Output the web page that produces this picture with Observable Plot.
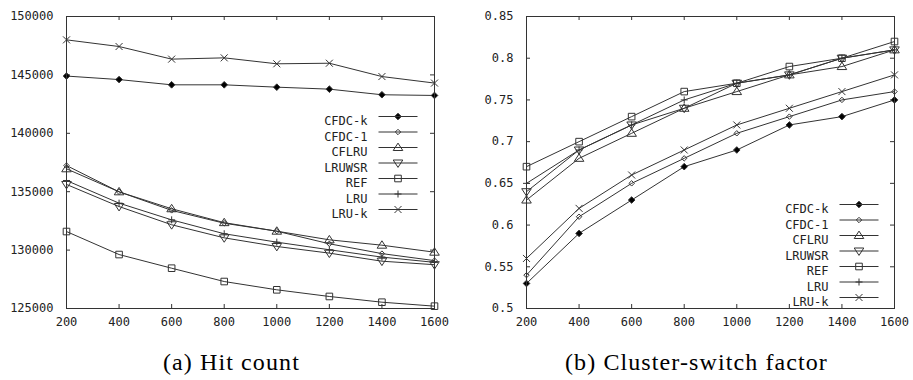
<!DOCTYPE html>
<html><head><meta charset="utf-8">
<script src="https://cdn.jsdelivr.net/npm/d3@7"></script>
<script src="https://cdn.jsdelivr.net/npm/@observablehq/plot@0.6"></script>
<style>
html,body{margin:0;padding:0;background:#fff;}
body{width:913px;height:380px;overflow:hidden;position:relative;}
#a{position:absolute;left:0;top:0;}
#b{position:absolute;left:456px;top:0;}
.cap{position:absolute;font-family:"Liberation Serif",serif;font-size:24px;line-height:24px;letter-spacing:1.1px;color:#000;white-space:nowrap;}
#capA{left:163px;top:350px;}
#capB{left:565px;top:350px;}
</style></head><body>
<div id="a"></div><div id="b"></div>
<div class="cap" id="capA">(a) Hit count</div>
<div class="cap" id="capB">(b) Cluster-switch factor</div>
<script>
// ---- data ----
const xValues = [200, 400, 600, 800, 1000, 1200, 1400, 1600];
const seriesNames = ["CFDC-k", "CFDC-1", "CFLRU", "LRUWSR", "REF", "LRU", "LRU-k"];

// (a) Hit count
const hitCFDCk  = [144900, 144600, 144150, 144150, 143950, 143780, 143300, 143240];
const hitCFDC1  = [137240, 134990, 133400, 132300, 131620, 130540, 129700, 129100];
const hitCFLRU  = [136960, 134990, 133540, 132350, 131620, 130880, 130420, 129820];
const hitLRUWSR = [135620, 133730, 132170, 131050, 130310, 129740, 129050, 128750];
const hitREF    = [131590, 129620, 128450, 127310, 126600, 126030, 125540, 125200];
const hitLRU    = [135960, 134020, 132590, 131400, 130680, 130030, 129400, 128950];
const hitLRUk   = [148000, 147430, 146350, 146460, 145950, 146000, 144860, 144300];
const hitTicks  = [125000, 130000, 135000, 140000, 145000, 150000];

// (b) Cluster-switch factor
const csfCFDCk  = [0.53, 0.59, 0.63, 0.67, 0.69, 0.72, 0.73, 0.75];
const csfCFDC1  = [0.54, 0.61, 0.65, 0.68, 0.71, 0.73, 0.75, 0.76];
const csfCFLRU  = [0.63, 0.68, 0.71, 0.74, 0.76, 0.78, 0.79, 0.81];
const csfLRUWSR = [0.64, 0.69, 0.72, 0.74, 0.77, 0.78, 0.80, 0.81];
const csfREF    = [0.67, 0.70, 0.73, 0.76, 0.77, 0.79, 0.80, 0.82];
const csfLRU    = [0.65, 0.69, 0.72, 0.75, 0.77, 0.78, 0.80, 0.81];
const csfLRUk   = [0.56, 0.62, 0.66, 0.69, 0.72, 0.74, 0.76, 0.78];
const csfTicks  = [0.5, 0.55, 0.6, 0.65, 0.7, 0.75, 0.8, 0.85];

// ---- styles ----
const shapes = {
  diamond(c, r) { c.moveTo(0, -r); c.lineTo(r, 0); c.lineTo(0, r); c.lineTo(-r, 0); c.closePath(); },
  triangleUp(c, r) { c.moveTo(0, -1.1 * r); c.lineTo(1.2 * r, 0.75 * r); c.lineTo(-1.2 * r, 0.75 * r); c.closePath(); },
  triangleDown(c, r) { c.moveTo(0, 1.1 * r); c.lineTo(1.2 * r, -0.75 * r); c.lineTo(-1.2 * r, -0.75 * r); c.closePath(); },
  square(c, r) { c.moveTo(-r, -r); c.lineTo(r, -r); c.lineTo(r, r); c.lineTo(-r, r); c.closePath(); },
  plus(c, r) { c.moveTo(-r, 0); c.lineTo(r, 0); c.moveTo(0, -r); c.lineTo(0, r); },
  times(c, r) { c.moveTo(-r, -r); c.lineTo(r, r); c.moveTo(r, -r); c.lineTo(-r, r); }
};
const markerStyle = {
  "CFDC-k": {shape: "diamond", r: 3.3, fill: "#000"},
  "CFDC-1": {shape: "diamond", r: 2.7, fill: "none"},
  "CFLRU":  {shape: "triangleUp", r: 4, fill: "none"},
  "LRUWSR": {shape: "triangleDown", r: 4, fill: "none"},
  "REF":    {shape: "square", r: 3.3, fill: "none"},
  "LRU":    {shape: "plus", r: 3.5, fill: "none"},
  "LRU-k":  {shape: "times", r: 3.5, fill: "none"}
};
const symbolOf = (name) => ({draw(c, size) { shapes[markerStyle[name].shape](c, Math.sqrt(size / Math.PI)); }});
const legendSymbolOf = (name) => ({draw(c, size) {
  c.moveTo(-19.5, 0); c.lineTo(19.5, 0);
  shapes[markerStyle[name].shape](c, Math.sqrt(size / Math.PI));
}});

const MONO = "DejaVu Sans Mono";
const LINE = "#333";

function makeChart({values, yDomain, yTicks, width, marginLeft, marginRight, legend}) {
  const height = 330, marginTop = 16, marginBottom = 22;
  const plotW = width - marginLeft - marginRight, plotH = height - marginTop - marginBottom;
  const xDomain = [xValues[0], xValues[xValues.length - 1]];
  const tl = 4; // inward tick length in px
  const ty = (yDomain[1] - yDomain[0]) * tl / plotH;
  const tx = (xDomain[1] - xDomain[0]) * tl / plotW;
  const marks = [];
  // inward ticks on all four sides
  marks.push(Plot.ruleX(xValues, {x: d => d, y1: yDomain[0], y2: yDomain[0] + ty, stroke: LINE}));
  marks.push(Plot.ruleX(xValues, {x: d => d, y1: yDomain[1] - ty, y2: yDomain[1], stroke: LINE}));
  marks.push(Plot.ruleY(yTicks, {y: d => d, x1: xDomain[0], x2: xDomain[0] + tx, stroke: LINE}));
  marks.push(Plot.ruleY(yTicks, {y: d => d, x1: xDomain[1] - tx, x2: xDomain[1], stroke: LINE}));
  seriesNames.forEach((name, i) => {
    const data = xValues.map((x, j) => ({x, y: values[i][j]}));
    const st = markerStyle[name];
    marks.push(Plot.line(data, {x: "x", y: "y", stroke: LINE, strokeWidth: 1}));
    marks.push(Plot.dot(data, {x: "x", y: "y", symbol: symbolOf(name), r: st.r, fill: st.fill, stroke: LINE, strokeWidth: 1}));
    // legend
    marks.push(Plot.text([name], {frameAnchor: "top-right", text: d => d, dx: legend.textDx, dy: legend.top + i * legend.step,
      textAnchor: "end", fontFamily: MONO, fontSize: 12, fill: "#222"}));
    marks.push(Plot.dot([name], {frameAnchor: "top-right", dx: legend.markDx, dy: legend.top + i * legend.step,
      symbol: legendSymbolOf(name), r: st.r, fill: st.fill, stroke: LINE, strokeWidth: 1}));
  });
  marks.push(Plot.frame({stroke: LINE}));
  return Plot.plot({
    width, height, marginTop, marginBottom, marginLeft, marginRight,
    style: {fontFamily: MONO, fontSize: "12px", color: "#222", background: "transparent"},
    x: {domain: xDomain, ticks: xValues, tickSize: 0, tickPadding: 9, tickFormat: d => String(d), label: null},
    y: {domain: yDomain, ticks: yTicks, tickSize: 0, tickPadding: 13, tickFormat: d => String(d), label: null},
    marks
  });
}

document.getElementById("a").append(makeChart({
  values: [hitCFDCk, hitCFDC1, hitCFLRU, hitLRUWSR, hitREF, hitLRU, hitLRUk],
  yDomain: [hitTicks[0], hitTicks[hitTicks.length - 1]], yTicks: hitTicks,
  width: 456, marginLeft: 66, marginRight: 22,
  legend: {textDx: -67, markDx: -36.5, top: 100, step: 15.5}
}));
document.getElementById("b").append(makeChart({
  values: [csfCFDCk, csfCFDC1, csfCFLRU, csfLRUWSR, csfREF, csfLRU, csfLRUk],
  yDomain: [csfTicks[0], csfTicks[csfTicks.length - 1]], yTicks: csfTicks,
  width: 457, marginLeft: 70, marginRight: 19,
  legend: {textDx: -66, markDx: -35.5, top: 188, step: 15.5}
}));
</script>
</body></html>
